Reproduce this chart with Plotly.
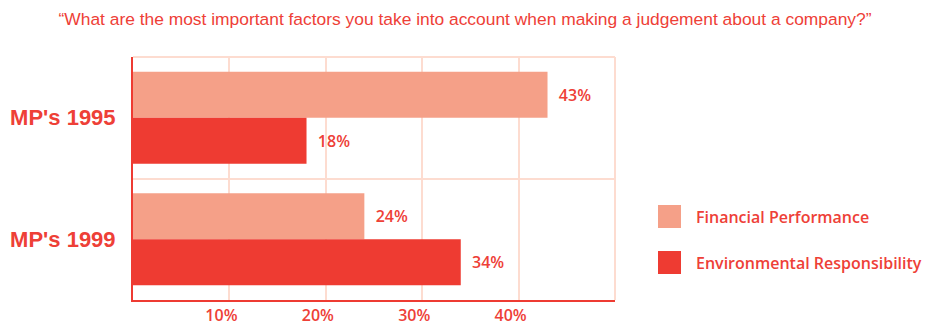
import plotly.graph_objects as go

# Survey answers: share of MPs naming each factor
groups = ["MP's 1995", "MP's 1999"]
series_names = ["Financial Performance", "Environmental Responsibility"]
financial = [43, 24]
environmental = [18, 34]
x_ticks = [10, 20, 30, 40]
x_tick_text = ["10%", "20%", "30%", "40%"]
title_text = "\u201cWhat are the most important factors you take into account when making a judgement about a company?\u201d"

RED = "#EE3B32"
SALMON = "#F5A088"
GRID = "#FDDCD0"
TEXT = "#EE4037"
VALUE_FONT = dict(family="Open Sans", size=16, color=TEXT, weight=600)

fig = go.Figure()
for name, vals, colour in [(series_names[0], financial, SALMON),
                           (series_names[1], environmental, RED)]:
    fig.add_trace(go.Bar(
        name=name,
        y=groups,
        x=vals,
        orientation="h",
        marker=dict(color=colour, line=dict(width=0)),
        text=[f"\u00a0\u00a0{v}%" for v in vals],
        textposition="outside",
        outsidetextfont=VALUE_FONT,
        constraintext="none",
        cliponaxis=False,
        hoverinfo="skip",
        showlegend=False,
    ))

# plot-area border (top and right) in the grid colour
shapes = [
    dict(type="line", xref="paper", yref="paper", x0=0, x1=1, y0=1, y1=1,
         line=dict(color=GRID, width=2), layer="below"),
    dict(type="line", xref="paper", yref="paper", x0=1, x1=1, y0=0, y1=1,
         line=dict(color=GRID, width=2), layer="below"),
]

# hand-built legend on the right
annotations = []
legend_rows = [(series_names[0], SALMON, 0.3909, 0.2963, 0.3436),
               (series_names[1], RED, 0.2016, 0.1070, 0.1543)]
for name, colour, y_top, y_bot, y_mid in legend_rows:
    shapes.append(dict(type="rect", xref="paper", yref="paper",
                       x0=1.0892, x1=1.1369, y0=y_bot, y1=y_top,
                       fillcolor=colour, line=dict(width=0)))
    annotations.append(dict(xref="paper", yref="paper", x=1.1639, y=y_mid,
                            xanchor="left", yanchor="middle", showarrow=False,
                            text=name, font=dict(family="Open Sans", size=16,
                                                 color=TEXT, weight=600)))

fig.update_layout(
    width=930, height=327,
    margin=dict(l=133, r=315, t=57, b=27, autoexpand=False),
    paper_bgcolor="white", plot_bgcolor="white",
    barmode="group", bargap=0.244, bargroupgap=0,
    title=dict(text=title_text, x=0.5, xanchor="center", y=0.942, yanchor="middle",
               font=dict(family="Liberation Sans", size=17.4, color=TEXT)),
    shapes=shapes,
    annotations=annotations,
    xaxis=dict(
        range=[0, 50], tickvals=x_ticks, ticktext=x_tick_text,
        showgrid=True, gridcolor=GRID, gridwidth=2,
        zeroline=False, showline=True, linecolor=RED, linewidth=2,
        ticks="", ticklabelshift=-8, automargin=False,
        tickfont=dict(family="Open Sans", size=16, color=TEXT, weight=600),
    ),
    yaxis=dict(
        type="category", categoryorder="array", categoryarray=groups,
        range=[1.5, -0.5], tickson="boundaries",
        showgrid=True, gridcolor=GRID, gridwidth=2,
        zeroline=False, showline=True, linecolor=RED, linewidth=2,
        ticks="", ticklabelstandoff=11, automargin=False,
        tickfont=dict(family="Liberation Sans", size=22, color=TEXT, weight="bold"),
    ),
)

fig.write_html("out.html")
